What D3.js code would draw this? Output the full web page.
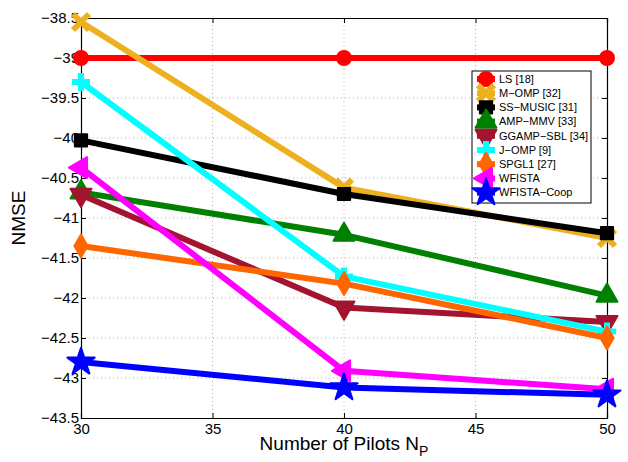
<!DOCTYPE html>
<html>
<head>
<meta charset="utf-8">
<script src="https://cdn.jsdelivr.net/npm/d3@7"></script>
<style>
  body { margin: 0; background: #fff; }
  text { font-family: "Liberation Sans", Arial, sans-serif; }
</style>
</head>
<body>
<svg id="chart" width="628" height="462"></svg>
<script>
// x values (number of pilots)
var pilots = [30, 40, 50];

// NMSE per method
var lsVals      = [-39.0, -39.0, -39.0];
var mompVals    = [-38.55, -40.62, -41.25];
var ssmusicVals = [-40.03, -40.70, -41.19];
var ampVals     = [-40.68, -41.21, -41.97];
var ggampVals   = [-40.71, -42.12, -42.30];
var jompVals    = [-39.30, -41.73, -42.42];
var spgl1Vals   = [-41.35, -41.82, -42.50];
var wfistaVals  = [-40.37, -42.91, -43.14];
var coopVals    = [-42.80, -43.12, -43.21];

var names   = ['LS [18]', 'M\u2212OMP [32]', 'SS\u2212MUSIC [31]', 'AMP\u2212MMV [33]', 'GGAMP\u2212SBL [34]',
               'J\u2212OMP [9]', 'SPGL1 [27]', 'WFISTA', 'WFISTA\u2212Coop'];
var values  = [lsVals, mompVals, ssmusicVals, ampVals, ggampVals, jompVals, spgl1Vals, wfistaVals, coopVals];
var colors  = ['#ff0000', '#edb120', '#000000', '#008000', '#a2142f', '#00ffff', '#ff6600', '#ff00ff', '#0000ff'];
var markers = ['circle', 'x', 'square', 'up', 'down', 'plus', 'diamond', 'left', 'star'];

var xTicks = [30, 35, 40, 45, 50];
var yTicks = d3.range(-43.5, -38.49, 0.5);

var svg = d3.select('#chart');
var margin = {top: 18, right: 21, bottom: 44, left: 81};
var W = 628, H = 462;

var x = d3.scaleLinear().domain([30, 50]).range([margin.left, W - margin.right]);
var y = d3.scaleLinear().domain([-43.5, -38.5]).range([H - margin.bottom, margin.top]);

var fmt = function (d) { return d3.format('~g')(d).replace('-', '\u2212'); };

//grid
var grid = svg.append('g');
grid.selectAll('.gy').data(yTicks.slice(1, -1)).enter().append('line')
    .attr('x1', x(30)).attr('x2', x(50))
    .attr('y1', function (d) { return y(d); }).attr('y2', function (d) { return y(d); })
    .attr('stroke', '#b0b0b0').attr('stroke-width', 1).attr('stroke-dasharray', '1,3');
grid.selectAll('.gx').data(xTicks.slice(1, -1)).enter().append('line')
    .attr('y1', y(-43.5)).attr('y2', y(-38.5))
    .attr('x1', function (d) { return x(d); }).attr('x2', function (d) { return x(d); })
    .attr('stroke', '#b0b0b0').attr('stroke-width', 1).attr('stroke-dasharray', '1,3');

//axes (ticks inward, box on)
var axL = svg.append('g').attr('transform', 'translate(' + x(30) + ',0)')
    .call(d3.axisLeft(y).tickValues(yTicks).tickSize(-5).tickPadding(3).tickFormat(fmt));
var axR = svg.append('g').attr('transform', 'translate(' + x(50) + ',0)')
    .call(d3.axisRight(y).tickValues(yTicks).tickSize(-5).tickFormat(''));
var axB = svg.append('g').attr('transform', 'translate(0,' + y(-43.5) + ')')
    .call(d3.axisBottom(x).tickValues(xTicks).tickSize(-5).tickPadding(7).tickFormat(d3.format('d')));
var axT = svg.append('g').attr('transform', 'translate(0,' + y(-38.5) + ')')
    .call(d3.axisTop(x).tickValues(xTicks).tickSize(-5).tickFormat(''));
[axL, axR, axB, axT].forEach(function (a) {
    a.select('.domain').attr('stroke', '#000').attr('stroke-width', 1.2);
    a.selectAll('.tick line').attr('stroke', '#000');
    a.selectAll('text').attr('font-size', 15).attr('fill', '#000')
        .style('font-family', '"Liberation Sans", Arial, sans-serif');
});
axL.selectAll('.tick text').attr('x', -2);
axB.selectAll('.tick text').attr('dy', '0.6em');

//axis labels
svg.append('text')
    .attr('transform', 'translate(25,' + ((margin.top + H - margin.bottom) / 2) + ') rotate(-90)')
    .attr('text-anchor', 'middle').attr('font-size', 19).text('NMSE');
var xl = svg.append('text')
    .attr('x', (margin.left + W - margin.right) / 2).attr('y', 450)
    .attr('text-anchor', 'middle').attr('font-size', 19);
xl.append('tspan').text('Number of Pilots N');
xl.append('tspan').attr('font-size', 14).attr('dy', 6).text('P');

//marker drawing
function drawMarker(g, type, color) {
    var s;
    if (type === 'circle') {
        g.append('circle').attr('r', 7).attr('fill', color).attr('stroke', color).attr('stroke-width', 2);
        return;
    }
    if (type === 'x' || type === 'plus') {
        var a = 8;
        var p = type === 'x'
            ? 'M' + (-a) + ',' + (-a) + 'L' + a + ',' + a + 'M' + (-a) + ',' + a + 'L' + a + ',' + (-a)
            : 'M' + (-a - 1) + ',0L' + (a + 1) + ',0M0,' + (-a - 1) + 'L0,' + (a + 1);
        g.append('path').attr('d', p).attr('fill', 'none').attr('stroke', color).attr('stroke-width', 6);
        return;
    }
    var rot = 0;
    if (type === 'square') s = d3.symbol().type(d3.symbolSquare).size(150);
    if (type === 'up') s = d3.symbol().type(d3.symbolTriangle).size(190);
    if (type === 'down') { s = d3.symbol().type(d3.symbolTriangle).size(190); rot = 180; }
    if (type === 'left') { s = d3.symbol().type(d3.symbolTriangle).size(190); rot = -90; }
    if (type === 'diamond') s = d3.symbol().type(d3.symbolDiamond).size(150);
    if (type === 'star') s = d3.symbol().type(d3.symbolStar).size(230);
    g.append('path').attr('d', s()).attr('transform', 'rotate(' + rot + ')')
        .attr('fill', color).attr('stroke', color).attr('stroke-width', 2).attr('stroke-linejoin', 'round');
}

//series
var line = d3.line().x(function (d, i) { return x(pilots[i]); }).y(function (d) { return y(d); });
values.forEach(function (vals, k) {
    var g = svg.append('g');
    g.append('path').datum(vals).attr('d', line)
        .attr('fill', 'none').attr('stroke', colors[k]).attr('stroke-width', 6)
        .attr('stroke-linejoin', 'round');
    vals.forEach(function (v, i) {
        drawMarker(g.append('g').attr('transform', 'translate(' + x(pilots[i]) + ',' + y(v) + ')'),
            markers[k], colors[k]);
    });
});

//legend
var leg = svg.append('g');
leg.append('rect').attr('x', 472).attr('y', 71).attr('width', 119).attr('height', 132)
    .attr('fill', '#fff').attr('stroke', '#000').attr('stroke-width', 1);
names.forEach(function (n, k) {
    var ly = 79 + k * 14.2;
    var item = leg.append('g');
    item.append('line').attr('x1', 477).attr('x2', 495).attr('y1', ly).attr('y2', ly)
        .attr('stroke', colors[k]).attr('stroke-width', 6);
    drawMarker(item.append('g').attr('transform', 'translate(486,' + ly + ')'), markers[k], colors[k]);
    item.append('text').attr('x', 499).attr('y', ly).attr('dy', '0.35em')
        .attr('font-size', 11).text(n);
});
</script>
</body>
</html>
